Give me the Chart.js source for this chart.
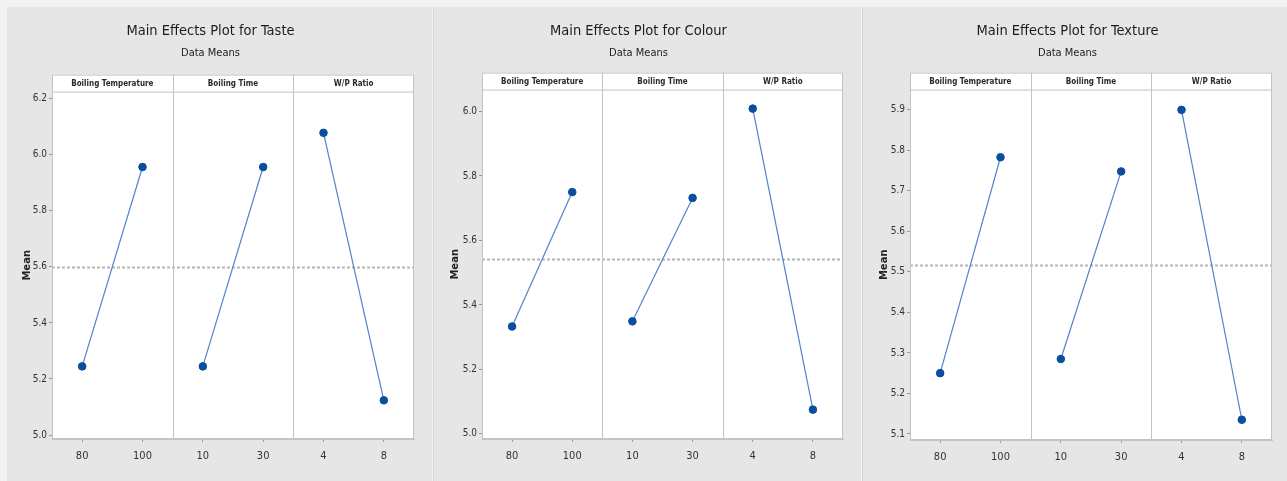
<!DOCTYPE html>
<html>
<head>
<meta charset="utf-8">
<title>Main Effects Plots</title>
<script src="https://cdn.jsdelivr.net/npm/chart.js@4.4.1/dist/chart.umd.min.js"></script>
<style>
    body { margin: 0; width: 1287px; height: 481px; background: #f3f3f3; position: relative; overflow: hidden; }
    .panel { position: absolute; top: 7px; height: 474px; background: #e6e6e6; }
    .panel + .panel { border-left: 1px solid #d3d3d3; }
</style>
</head>
<body>
<div class="panel" style="left:7px;width:425px"><canvas id="tasteChart"></canvas></div>
<div class="panel" style="left:433px;width:427px"><canvas id="colourChart"></canvas></div>
<div class="panel" style="left:862px;width:425px"><canvas id="textureChart"></canvas></div>
<script>
// Main effects data
const factors = ['Boiling Temperature', 'Boiling Time', 'W/P Ratio'];
const levels = ['80', '100', '10', '30', '4', '8'];

const tasteMeans   = [5.245, 5.956, 5.245, 5.956, 6.078, 5.124];
const colourMeans  = [5.333, 5.750, 5.349, 5.732, 6.009, 5.075];
const textureMeans = [5.250, 5.783, 5.285, 5.748, 5.900, 5.135];

const grandMeans = [5.600, 5.542, 5.517];

const tasteTicks   = [5.0, 5.2, 5.4, 5.6, 5.8, 6.0, 6.2];
const colourTicks  = [5.0, 5.2, 5.4, 5.6, 5.8, 6.0];
const textureTicks = [5.1, 5.2, 5.3, 5.4, 5.5, 5.6, 5.7, 5.8, 5.9];

const tasteRange   = [4.986, 6.225];
const colourRange  = [4.984, 6.068];
const textureRange = [5.085, 5.950];

const FONT = "'Liberation Sans Narrow', 'DejaVu Sans Condensed', 'Arial Narrow', sans-serif";
const LINE_BLUE = '#5283c9';
const DOT_BLUE = '#0a4e9e';
const FRAME = '#c3c3c3';

// white plot area, factor header strip, panel dividers and the grand mean line
const facetFrame = {
    id: 'facetFrame',
    beforeDraw(chart) {
        const { ctx, chartArea: a } = chart;
        ctx.save();
        ctx.fillStyle = '#ffffff';
        ctx.fillRect(a.left, a.top - 17, a.right - a.left, a.bottom - a.top + 17);
        ctx.restore();
    },
    beforeDatasetsDraw(chart, args, opts) {
        const { ctx, chartArea: a, scales: { x, y } } = chart;
        const headerTop = a.top - 17;
        const cuts = [a.left];
        for (let i = 1; i < factors.length; i++) {
            cuts.push((x.getPixelForValue(i * 2 - 1) + x.getPixelForValue(i * 2)) / 2);
        }
        cuts.push(a.right);

        ctx.save();
        // grand mean
        const my = Math.round(y.getPixelForValue(opts.mean)) + 0.5;
        ctx.strokeStyle = '#b5b5b5';
        ctx.lineWidth = 2;
        ctx.setLineDash([3, 2]);
        ctx.beginPath();
        ctx.moveTo(a.left, my);
        ctx.lineTo(a.right, my);
        ctx.stroke();
        ctx.setLineDash([]);

        // frame, header and dividers
        ctx.strokeStyle = FRAME;
        ctx.lineWidth = 1;
        ctx.strokeRect(a.left + 0.5, headerTop + 0.5, a.right - a.left - 1, a.bottom - headerTop - 1);
        ctx.beginPath();
        ctx.moveTo(a.left, a.top + 0.5);
        ctx.lineTo(a.right, a.top + 0.5);
        cuts.slice(1, -1).forEach(cx => {
            const px = Math.round(cx) + 0.5;
            ctx.moveTo(px, headerTop);
            ctx.lineTo(px, a.bottom);
        });
        ctx.stroke();

        ctx.fillStyle = '#2a2a2a';
        ctx.font = 'bold 8px ' + FONT;
        ctx.textAlign = 'center';
        ctx.textBaseline = 'middle';
        factors.forEach((f, i) => {
            ctx.fillText(f, (cuts[i] + cuts[i + 1]) / 2, headerTop + 9);
        });
        ctx.restore();
    }
};

function facetSeries(means, k) {
    return levels.map((_, i) => (Math.floor(i / 2) === k ? means[i] : null));
}

function makeMainEffectsChart(canvasId, response, means, mean, range, ticks, box) {
    const ctx = document.getElementById(canvasId).getContext('2d');
    return new Chart(ctx, {
        type: 'line',
        data: {
            labels: levels,
            datasets: factors.map((f, k) => ({
                label: f,
                data: facetSeries(means, k),
                borderColor: LINE_BLUE,
                borderWidth: 1.2,
                backgroundColor: DOT_BLUE,
                pointBackgroundColor: DOT_BLUE,
                pointBorderColor: DOT_BLUE,
                pointRadius: 3.8,
                pointBorderWidth: 1,
                spanGaps: false,
                tension: 0
            }))
        },
        options: {
            responsive: true,
            maintainAspectRatio: false,
            animation: false,
            layout: { padding: { left: 0, right: box.right, top: 0, bottom: 0 } },
            plugins: {
                legend: { display: false },
                tooltip: { enabled: false },
                title: {
                    display: true,
                    text: 'Main Effects Plot for ' + response,
                    color: '#1c1c1c',
                    font: { family: FONT, size: 14.5, weight: 'normal' },
                    padding: { top: 16, bottom: 4 }
                },
                subtitle: {
                    display: true,
                    text: 'Data Means',
                    color: '#1c1c1c',
                    font: { family: FONT, size: 11, weight: 'normal' },
                    padding: { top: 2, bottom: box.gap }
                },
                facetFrame: { mean: mean }
            },
            scales: {
                x: {
                    type: 'category',
                    offset: true,
                    grid: { drawOnChartArea: false, drawTicks: true, tickLength: 3, color: '#9a9a9a' },
                    border: { display: true, color: FRAME },
                    ticks: { color: '#333', font: { family: FONT, size: 11 }, padding: 8, maxRotation: 0, autoSkip: false },
                    afterFit: s => { s.height = box.bottom; }
                },
                y: {
                    min: range[0],
                    max: range[1],
                    afterBuildTicks: s => { s.ticks = ticks.map(v => ({ value: v })); },
                    grid: { drawOnChartArea: false, drawTicks: true, tickLength: 3, color: '#9a9a9a' },
                    border: { display: true, color: FRAME },
                    ticks: { color: '#333', font: { family: FONT, size: 10 }, padding: 2, callback: v => Number(v).toFixed(1) },
                    title: {
                        display: true,
                        text: 'Mean',
                        color: '#222',
                        font: { family: "'DejaVu Sans', sans-serif", size: 10, weight: 'bold' },
                        padding: { top: box.titleX, bottom: 0 }
                    },
                    afterFit: s => { s.width = box.left; }
                }
            }
        },
        plugins: [facetFrame]
    });
}

makeMainEffectsChart('tasteChart', 'Taste', tasteMeans, grandMeans[0], tasteRange, tasteTicks,
    { left: 45, right: 18, bottom: 42, gap: 32, titleX: 14 });
makeMainEffectsChart('colourChart', 'Colour', colourMeans, grandMeans[1], colourRange, colourTicks,
    { left: 48, right: 18, bottom: 42, gap: 30, titleX: 15 });
makeMainEffectsChart('textureChart', 'Texture', textureMeans, grandMeans[2], textureRange, textureTicks,
    { left: 47, right: 16, bottom: 41, gap: 30, titleX: 15 });
</script>
</body>
</html>
